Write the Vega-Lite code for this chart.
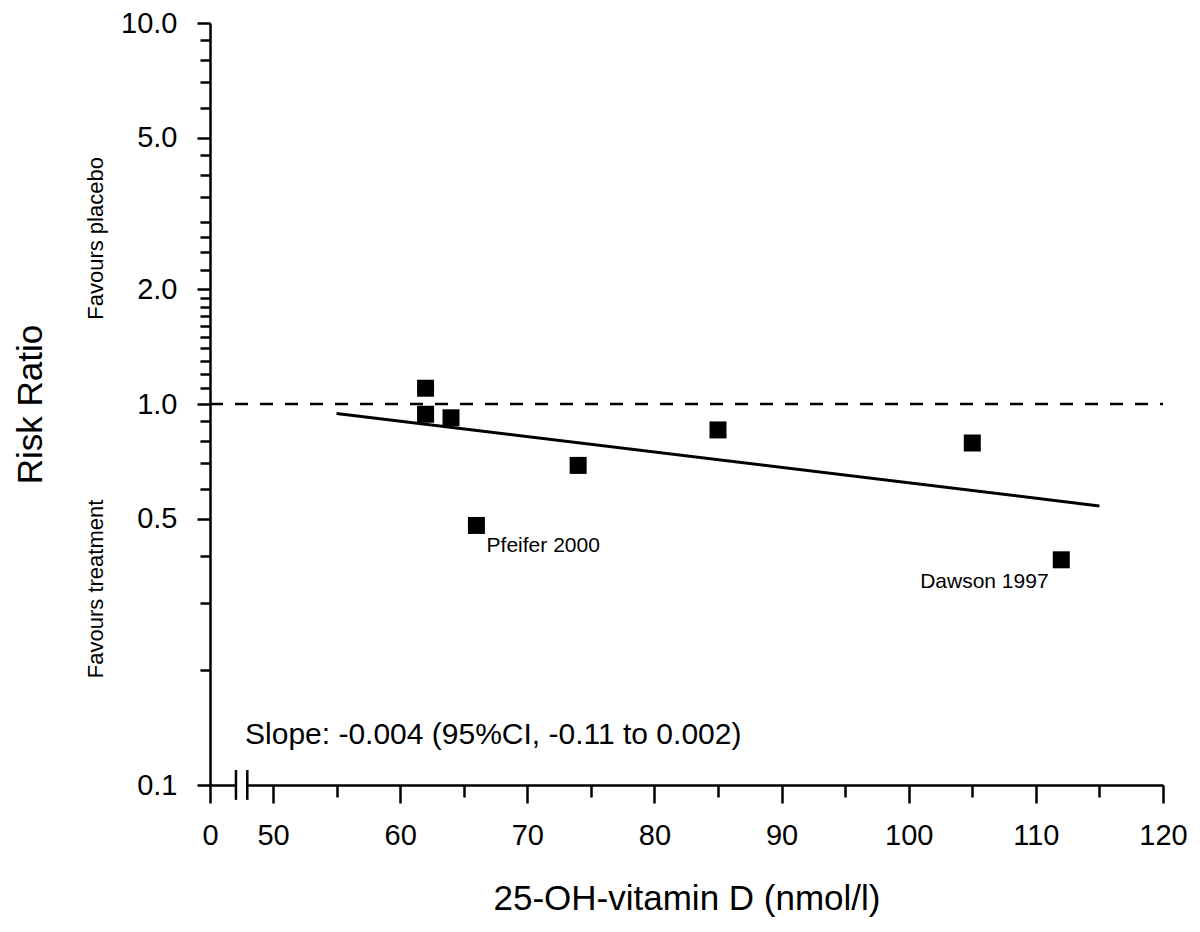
{
  "$schema": "https://vega.github.io/schema/vega-lite/v6.json",
  "width": 953,
  "height": 762,
  "autosize": "none",
  "padding": {"left": 210, "top": 23, "right": 37, "bottom": 147},
  "background": "white",
  "config": {"view": {"stroke": null}, "font": "Liberation Sans"},
  "datasets": {
    "studies": [
      {"study": "", "vitd": 62, "rr": 1.10},
      {"study": "", "vitd": 62, "rr": 0.94},
      {"study": "", "vitd": 64, "rr": 0.92},
      {"study": "Pfeifer 2000", "vitd": 66, "rr": 0.48},
      {"study": "", "vitd": 74, "rr": 0.69},
      {"study": "", "vitd": 85, "rr": 0.855},
      {"study": "", "vitd": 105, "rr": 0.79},
      {"study": "Dawson 1997", "vitd": 112, "rr": 0.39}
    ],
    "reference": [{"vitd": 0, "vitd2": 120, "rr": 1}],
    "fit": [{"vitd": 55, "rr": 0.944}, {"vitd": 115, "rr": 0.54}],
    "studylabels": [
      {"label": "Pfeifer 2000", "vitd": 66.8, "rr": 0.424},
      {"label": "Dawson 1997", "vitd": 100.9, "rr": 0.341}
    ],
    "slope": [{"label": "Slope: -0.004 (95%CI, -0.11 to 0.002)", "vitd": 27.8, "rr": 0.1353}],
    "favours": [
      {"label": "Favours placebo", "vitd": -90.5, "rr": 2.72},
      {"label": "Favours treatment", "vitd": -90.5, "rr": 0.327}
    ],
    "gap": [{"vitd": 20.6, "vitd2": 29.6, "rr": 0.1}],
    "breaks": [
      {"vitd": 20.6, "rr": 0.1095, "rr2": 0.0914},
      {"vitd": 29.6, "rr": 0.1095, "rr2": 0.0914}
    ]
  },
  "encoding": {
    "x": {
      "field": "vitd",
      "type": "quantitative",
      "scale": {"type": "linear", "domain": [0, 50, 120], "range": [0, 63, 953], "nice": false, "zero": false},
      "axis": {
        "title": "25-OH-vitamin D (nmol/l)",
        "values": [0, 50, 55, 60, 65, 70, 75, 80, 85, 90, 95, 100, 105, 110, 115, 120],
        "format": "d",
        "labelExpr": "datum.value % 10 == 0 ? datum.label : ''",
        "grid": false,
        "domainColor": "black",
        "domainWidth": 2.5,
        "tickColor": "black",
        "tickWidth": 2.5,
        "tickSize": {"condition": {"test": "datum.value % 10 == 0", "value": 18}, "value": 12},
        "labelFont": "Liberation Sans",
        "labelFontSize": 29,
        "labelColor": "black",
        "labelPadding": 18,
        "labelOverlap": false,
        "labelFlush": false,
        "labelBound": false,
        "titleFont": "Liberation Sans",
        "titleFontSize": 35,
        "titleFontWeight": "normal",
        "titleColor": "black",
        "titleY": 124,
        "titleBaseline": "alphabetic"
      }
    },
    "y": {
      "field": "rr",
      "type": "quantitative",
      "scale": {"type": "log", "domain": [0.1, 10], "nice": false},
      "axis": {
        "title": "Risk Ratio",
        "values": [0.1, 0.2, 0.3, 0.4, 0.5, 0.6, 0.7, 0.8, 0.9, 1, 1.1, 1.2, 1.3, 1.4, 1.5, 1.6, 1.7, 1.8, 1.9, 2, 2.25, 2.5, 2.75, 3, 3.5, 4, 4.5, 5, 6, 7, 8, 9, 10],
        "format": ".1f",
        "labelExpr": "indexof([0.1, 0.5, 1, 2, 5, 10], datum.value) >= 0 ? datum.label : ''",
        "grid": false,
        "domainColor": "black",
        "domainWidth": 2.5,
        "tickColor": "black",
        "tickWidth": 2.5,
        "tickSize": {"condition": {"test": "indexof([0.1, 0.5, 1, 2, 5, 10], datum.value) >= 0", "value": 13}, "value": 10},
        "labelFont": "Liberation Sans",
        "labelFontSize": 29,
        "labelColor": "black",
        "labelPadding": 20,
        "labelOverlap": false,
        "labelFlush": false,
        "labelBound": false,
        "titleFont": "Liberation Sans",
        "titleFontSize": 35,
        "titleFontWeight": "normal",
        "titleColor": "black",
        "titleX": -180,
        "titleY": 381,
        "titleAngle": 270,
        "titleAlign": "center",
        "titleBaseline": "middle"
      }
    }
  },
  "layer": [
    {
      "data": {"name": "reference"},
      "mark": {"type": "rule", "color": "black", "strokeWidth": 2.5, "strokeDash": [13, 12]},
      "encoding": {"x2": {"field": "vitd2"}}
    },
    {
      "data": {"name": "fit"},
      "mark": {"type": "line", "color": "black", "strokeWidth": 3},
      "encoding": {}
    },
    {
      "data": {"name": "studies"},
      "mark": {"type": "point", "shape": "square", "filled": true, "color": "black", "size": 289, "opacity": 1}
    },
    {
      "data": {"name": "studylabels"},
      "mark": {"type": "text", "align": "left", "baseline": "middle", "fontSize": 21, "font": "Liberation Sans", "color": "black"},
      "encoding": {"text": {"field": "label"}}
    },
    {
      "data": {"name": "slope"},
      "mark": {"type": "text", "align": "left", "baseline": "middle", "fontSize": 30, "font": "Liberation Sans", "color": "black"},
      "encoding": {"text": {"field": "label"}}
    },
    {
      "data": {"name": "favours"},
      "mark": {"type": "text", "align": "center", "baseline": "middle", "angle": 270, "fontSize": 22, "font": "Liberation Sans", "color": "black"},
      "encoding": {"text": {"field": "label"}}
    },
    {
      "data": {"name": "gap"},
      "mark": {"type": "rule", "color": "white", "strokeWidth": 6},
      "encoding": {"x2": {"field": "vitd2"}}
    },
    {
      "data": {"name": "breaks"},
      "mark": {"type": "rule", "color": "black", "strokeWidth": 2.5},
      "encoding": {"y2": {"field": "rr2"}}
    }
  ]
}
